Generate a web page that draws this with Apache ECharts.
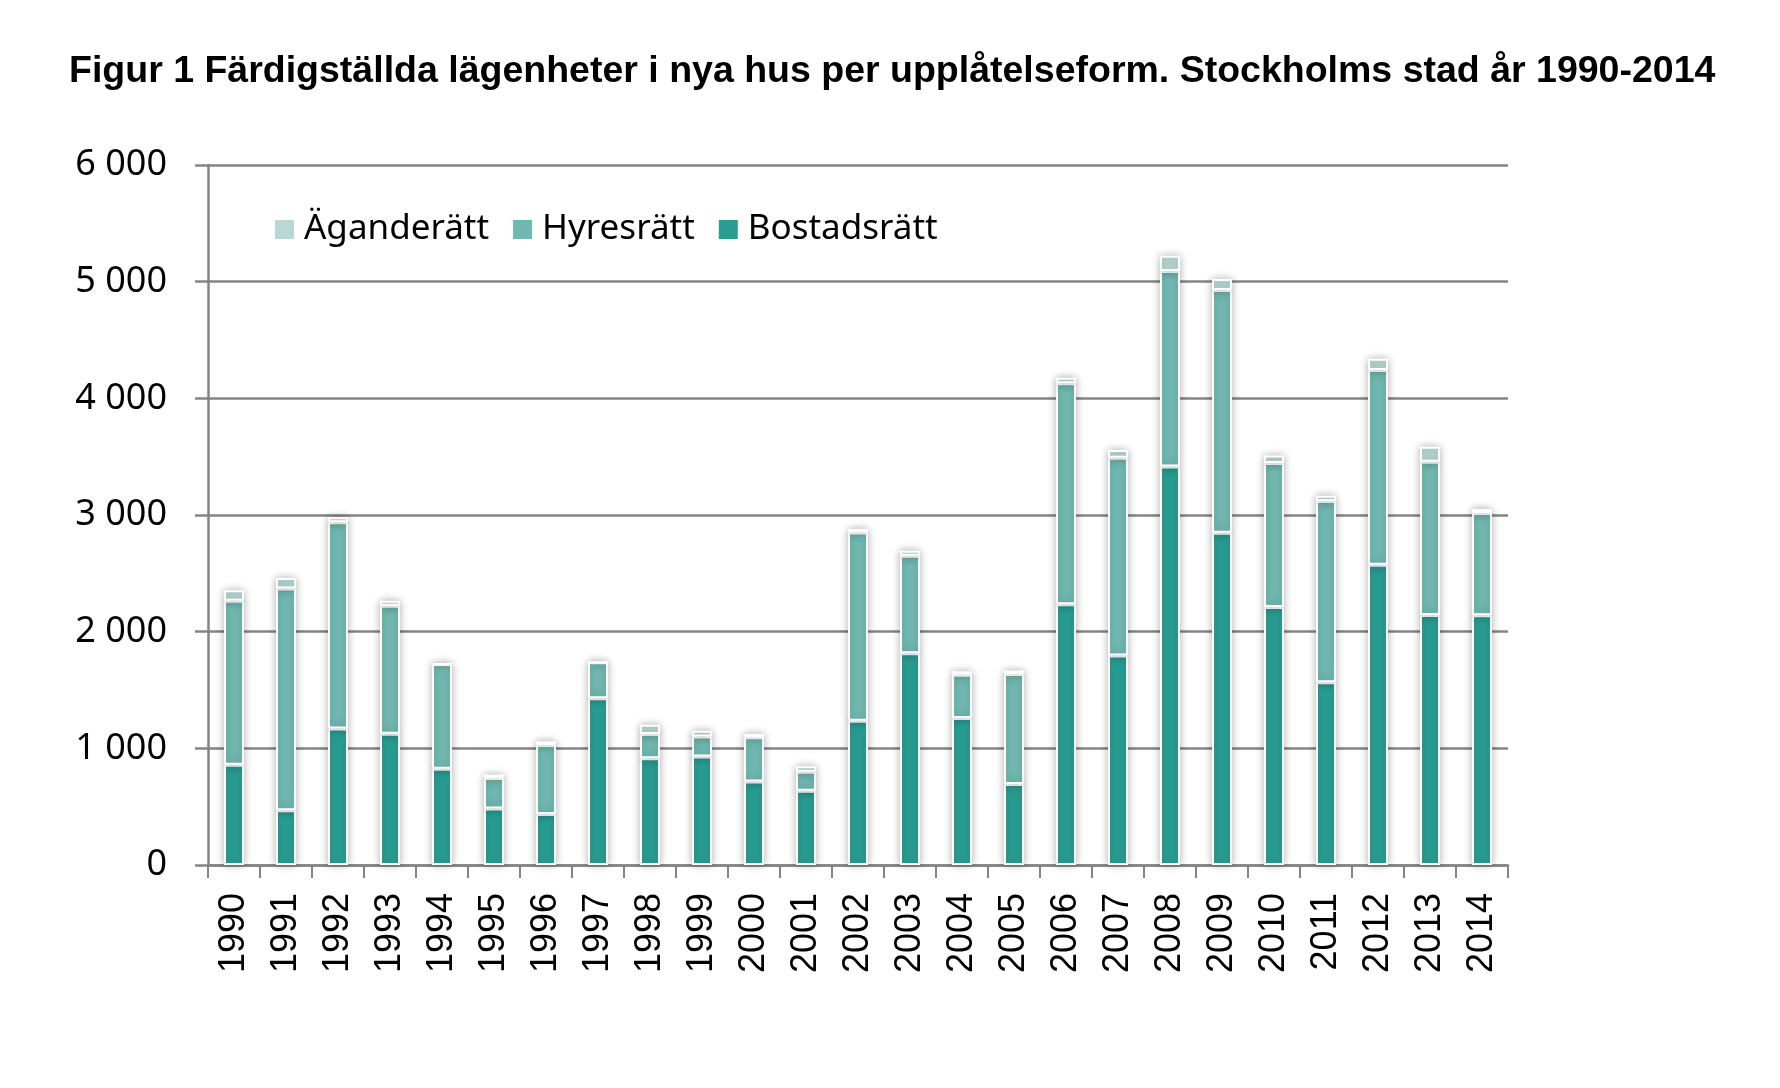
<!DOCTYPE html>
<html>
<head>
<meta charset="utf-8">
<script src="https://cdn.jsdelivr.net/npm/echarts@6/dist/echarts.min.js"></script>
<style>
  html, body { margin: 0; padding: 0; background: #fff; }
  #chart { width: 1780px; height: 1088px; }
</style>
</head>
<body>
<div id="chart"></div>
<script>
// years on the x axis
var years = ['1990', '1991', '1992', '1993', '1994', '1995', '1996', '1997', '1998', '1999',
  '2000', '2001', '2002', '2003', '2004', '2005', '2006', '2007', '2008', '2009',
  '2010', '2011', '2012', '2013', '2014'];

// apartments per tenure form
var bostadsratt = [860, 470, 1170, 1125, 825, 485, 437, 1430, 915, 930,
  715, 637, 1237, 1815, 1260, 695, 2235, 1795, 3415, 2848,
  2212, 1566, 2574, 2143, 2140];
var hyresratt = [1405, 1900, 1767, 1098, 898, 261, 592, 307, 208, 172,
  379, 163, 1614, 836, 371, 942, 1894, 1696, 1676, 2081,
  1234, 1554, 1669, 1314, 877];
var aganderatt = [91, 89, 43, 43, 0, 28, 31, 0, 80, 48,
  29, 46, 29, 43, 29, 29, 48, 66, 132, 94,
  65, 46, 97, 129, 34];

var yTicks = [0, 1000, 2000, 3000, 4000, 5000, 6000];

var chart = echarts.init(document.getElementById('chart'));

var gray = '#858585';
var labelFont = '"Noto Sans", "Open Sans", sans-serif';

// shared look for the stacked bars
var barSeries = function (name, data, color) {
  return {
    name: name,
    type: 'bar',
    stack: 'total',
    data: data,
    barWidth: 20,
    itemStyle: {
      color: color,
      borderColor: '#ffffff',
      borderWidth: 2,
      shadowColor: 'rgba(0, 0, 0, 0.28)',
      shadowBlur: 9
    },
    emphasis: { disabled: true }
  };
};

chart.setOption({
  animation: false,
  backgroundColor: '#ffffff',
  title: {
    text: 'Figur 1 Färdigställda lägenheter i nya hus per upplåtelseform. Stockholms stad år 1990-2014',
    left: 64,
    top: 48,
    textStyle: {
      fontFamily: '"Liberation Sans", Arial, sans-serif',
      fontWeight: 'bold',
      fontSize: 37.5,
      color: '#000'
    }
  },
  legend: {
    left: 268,
    top: 207,
    itemWidth: 21,
    itemHeight: 21,
    itemGap: 22,
    icon: 'rect',
    data: ['Äganderätt', 'Hyresrätt', 'Bostadsrätt'],
    textStyle: {
      fontFamily: labelFont,
      fontSize: 35,
      color: '#000',
      padding: [0, 0, 0, 4]
    }
  },
  grid: {
    left: 208,
    right: 272,
    top: 165,
    bottom: 223
  },
  xAxis: {
    type: 'category',
    data: years,
    axisLine: { lineStyle: { color: gray, width: 2.5 } },
    axisTick: { show: true, length: 13, lineStyle: { color: gray, width: 2 } },
    axisLabel: {
      rotate: 90,
      margin: 28,
      fontFamily: '"Liberation Sans", Arial, sans-serif',
      fontSize: 36,
      color: '#000'
    }
  },
  yAxis: {
    type: 'value',
    min: yTicks[0],
    max: yTicks[yTicks.length - 1],
    interval: 1000,
    axisLine: { show: true, lineStyle: { color: gray, width: 2.5 } },
    axisTick: { show: true, inside: false, length: 13, lineStyle: { color: gray, width: 2.5 } },
    splitLine: { lineStyle: { color: gray, width: 2.5 } },
    axisLabel: {
      margin: 41,
      fontFamily: labelFont,
      fontSize: 36,
      color: '#000',
      formatter: function (v) {
        return String(v).replace(/\B(?=(\d{3})+(?!\d))/g, ' ');
      }
    }
  },
  series: [
    barSeries('Bostadsrätt', bostadsratt, '#299D92'),
    barSeries('Hyresrätt', hyresratt, '#70B9B2'),
    barSeries('Äganderätt', aganderatt, '#B7D8D4')
  ]
});
</script>
</body>
</html>
